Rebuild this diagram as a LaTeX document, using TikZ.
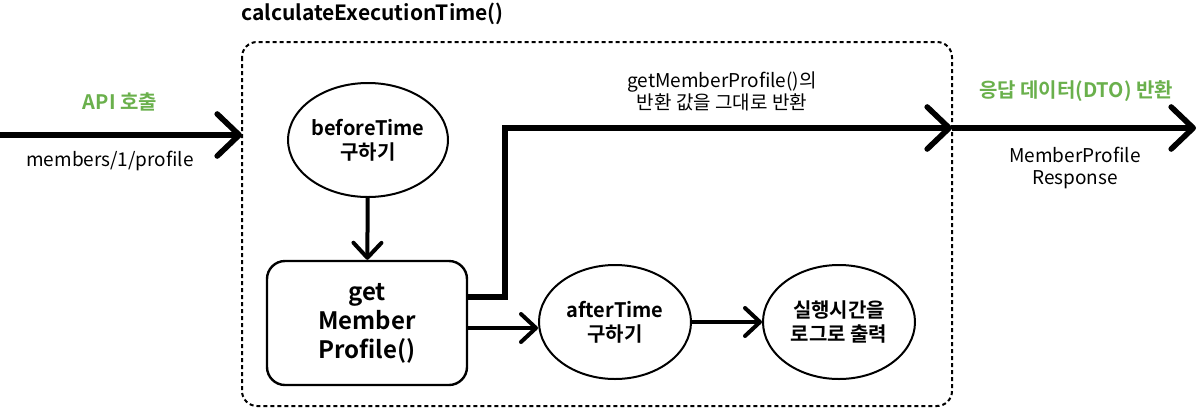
\documentclass[tikz,border=0pt]{standalone}
\usepackage{fontspec}
\setmainfont{Noto Sans CJK KR}[BoldFont={Noto Sans CJK KR Bold}]
\usetikzlibrary{arrows.meta,shapes.geometric}
\definecolor{callgreen}{RGB}{106,176,76}

\begin{document}
\begin{tikzpicture}[x=0.5pt,y=-0.5pt,
        font=\fontsize{9.5}{11}\selectfont,
        timebox/.style={draw,ellipse,line width=1pt,minimum width=76pt,minimum height=57pt,
            align=center,inner sep=0pt,font=\fontsize{10}{12}\selectfont\bfseries},
        callbox/.style={draw,rounded corners=9pt,line width=1.2pt,minimum width=100pt,minimum height=62pt,
            align=center,font=\fontsize{12}{14.5}\selectfont\bfseries},
        bigflow/.style={line width=2.8pt,-{Straight Barb[length=11pt,width=21pt,round]}},
        flow/.style={line width=2pt,-{Straight Barb[length=7.5pt,width=14pt,round]}},
        greenlabel/.style={text=callgreen,font=\fontsize{10}{12}\selectfont\bfseries}]

    \useasboundingbox (0,0) rectangle (1199,408);

    \draw[line width=1pt,dash pattern=on 2pt off 1.5pt,rounded corners=7.5pt] (242,42) rectangle (952,406);
    \node[anchor=west,inner sep=0pt,font=\fontsize{10.5}{12}\selectfont\bfseries] (title) at (241,14) {calculateExecutionTime()};

    \node[timebox] (before) at (368,140) {beforeTime\\구하기};
    \node[callbox] (call) at (367,323) {get\\Member\\Profile()};
    \node[timebox] (after) at (615,322) {afterTime\\구하기};
    \node[timebox] (log) at (839,322) {실행시간을\\로그로 출력};

    \coordinate (in) at (0,135);
    \coordinate (entry) at (242,135);
    \coordinate (turn) at (505,297);
    \coordinate (exit) at (952,128);
    \coordinate (out) at (1196,128);
    \coordinate (low) at (0,328);

    \draw[bigflow] (in) -- (entry);
    \node[greenlabel] (apilabel) at (120,102) {API 호출};
    \node (urilabel) at (110,161) {members/1/profile};

    \draw[flow] (before) -- (call);
    \draw[flow] (call.east |- low) -- (after.west |- low);
    \draw[flow] (after) -- (log);
    \draw[bigflow] (call.east |- turn) -- (turn) -- (turn |- exit) -- (exit);
    \node[align=center] (returnlabel) at (722,91) {getMemberProfile()의\\반환 값을 그대로 반환};

    \draw[bigflow] (exit) -- (out);
    \node[greenlabel] (resplabel) at (1076,91) {응답 데이터(DTO) 반환};
    \node[align=center] (dtolabel) at (1075,168) {MemberProfile\\Response};
\end{tikzpicture}
\end{document}
